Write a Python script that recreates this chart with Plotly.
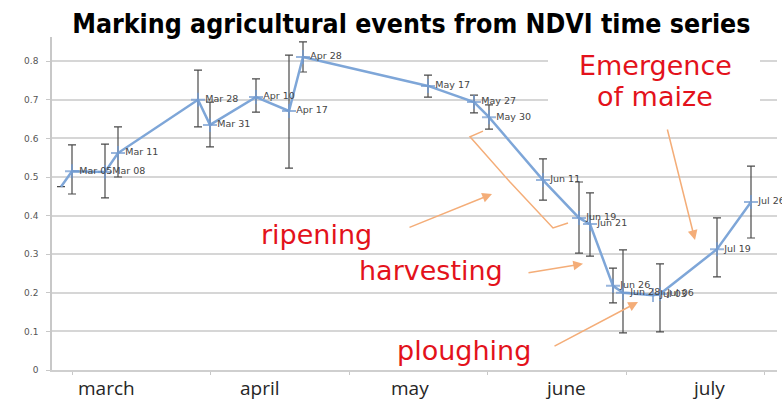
import numpy as np
import plotly.graph_objects as go

# ---- data ----
obs_pos = [1.8, 4.0, 10.6, 13.2, 29.2, 31.6, 40.8, 47.4, 50.2, 75.2, 84.4, 87.4,
           98.2, 105.4, 107.6, 112.2, 114.2, 120.2, 121.6, 133.0, 139.8]
ndvi = [0.475, 0.515, 0.513, 0.562, 0.700, 0.635, 0.707, 0.671, 0.811, 0.736, 0.694, 0.655,
        0.492, 0.394, 0.378, 0.218, 0.200, 0.194, 0.197, 0.313, 0.435]
err_plus = [np.nan, 0.068, 0.072, 0.068, 0.077, 0.059, 0.047, 0.145, 0.039, 0.028, 0.018, 0.032,
            0.055, 0.093, 0.081, 0.046, 0.111, np.nan, 0.078, 0.081, 0.093]
err_minus = [np.nan, 0.059, 0.067, 0.062, 0.070, 0.057, 0.039, 0.148, 0.039, 0.029, 0.028, 0.031,
             0.052, 0.091, 0.083, 0.044, 0.104, np.nan, 0.098, 0.072, 0.093]
date_labels = ["", "Mar 05", "Mar 08", "Mar 11", "Mar 28", "Mar 31", "Apr 10", "Apr 17", "Apr 28",
               "May 17", "May 27", "May 30", "Jun 11", "Jun 19", "Jun 21", "Jun 26", "Jun 28",
               "Jul 03", "Jul 06", "Jul 19", "Jul 26"]
month_pos = [10.8, 41.6, 71.6, 102.6, 131.2]
month_labels = ["march", "april", "may", "june", "july"]
y_ticks = [0, 0.1, 0.2, 0.3, 0.4, 0.5, 0.6, 0.7, 0.8]

RED = "#e3121b"
ORANGE = "#f4ad78"
BLUE = "#7ea6d8"

marker_sizes = [0] + [10] * (len(obs_pos) - 1)

fig = go.Figure()
fig.add_trace(go.Scatter(
    x=obs_pos, y=ndvi, mode="lines+markers+text",
    text=date_labels, textposition="middle right",
    textfont=dict(family="DejaVu Sans", size=9.5, color="#444444"),
    line=dict(color=BLUE, width=2.5),
    marker=dict(symbol="cross-thin", size=marker_sizes, line=dict(color="#6f98cf", width=2)),
    error_y=dict(type="data", symmetric=False, array=err_plus, arrayminus=err_minus,
                 color="#4a4a4a", thickness=1.2, width=4),
    cliponaxis=False, showlegend=False, hoverinfo="skip",
))

# white box behind "Emergence of maize"
fig.add_shape(type="rect", xref="x", yref="y", x0=99.2, x1=141.6, y0=0.648, y1=0.845,
              fillcolor="white", line=dict(width=0), layer="between")

# bracket
fig.add_shape(type="path", xref="x", yref="y",
              path="M 86.2 0.619 L 83.6 0.604 L 91.6 0.487 L 100.2 0.368 L 103.2 0.381",
              line=dict(color=ORANGE, width=1.5), layer="above")

annotations = []
for txt, x, y in [("ripening", 52.9, 0.352), ("harvesting", 75.8, 0.258),
                  ("ploughing", 82.4, 0.05), ("Emergence", 120.6, 0.79), ("of maize", 120.6, 0.708)]:
    annotations.append(dict(text=txt, x=x, y=y, xref="x", yref="y", showarrow=False,
                            font=dict(family="DejaVu Sans", size=27, color=RED),
                            xanchor="center", yanchor="middle"))

for (tx, ty, hx, hy) in [(71.2, 0.368, 88.0, 0.456), (95.0, 0.251, 106.2, 0.275),
                         (100.2, 0.060, 117.2, 0.176), (123.0, 0.627, 128.6, 0.337)]:
    annotations.append(dict(text="", x=hx, y=hy, ax=tx, ay=ty, xref="x", yref="y",
                            axref="x", ayref="y", showarrow=True, arrowhead=2,
                            arrowsize=1.3, arrowwidth=1.5, arrowcolor=ORANGE))

# month labels under the axis
for pos, lab in zip(month_pos, month_labels):
    annotations.append(dict(text=lab, x=pos, y=-0.055, xref="x", yref="paper", showarrow=False,
                            font=dict(family="Open Sans", size=19, color="#262626"),
                            xanchor="center", yanchor="middle"))

fig.update_layout(
    width=782, height=401,
    margin=dict(l=52, r=5, t=37, b=31),
    paper_bgcolor="white", plot_bgcolor="white",
    title=dict(text="<b>Marking agricultural events from NDVI time series</b>",
               x=0.526, xanchor="center", y=0.94, yanchor="middle", yref="container",
               font=dict(family="DejaVu Sans Condensed", size=26.5, color="black")),
    annotations=annotations,
    xaxis=dict(range=[0, 145], showticklabels=False,
               showgrid=False, zeroline=False, showline=True,
               linecolor="#cfcfcf", linewidth=1.5,
               tickmode="linear", tick0=4, dtick=27.7, ticks="outside",
               ticklen=3, tickcolor="#c8c8c8"),
    yaxis=dict(range=[0, 0.8627], tickmode="array", tickvals=y_ticks,
               showgrid=True, gridcolor="#d6d6d6", gridwidth=1.5, zeroline=False,
               showline=True, linecolor="#c8c8c8", linewidth=1.5,
               ticks="outside", ticklen=4, tickcolor="#c8c8c8", ticklabelstandoff=6,
               tickfont=dict(family="DejaVu Sans", size=9, color="#555555")),
)

fig.write_html("out.html", config={"displayModeBar": False},
               post_script="document.body.style.margin='0';document.body.style.overflow='hidden';")
